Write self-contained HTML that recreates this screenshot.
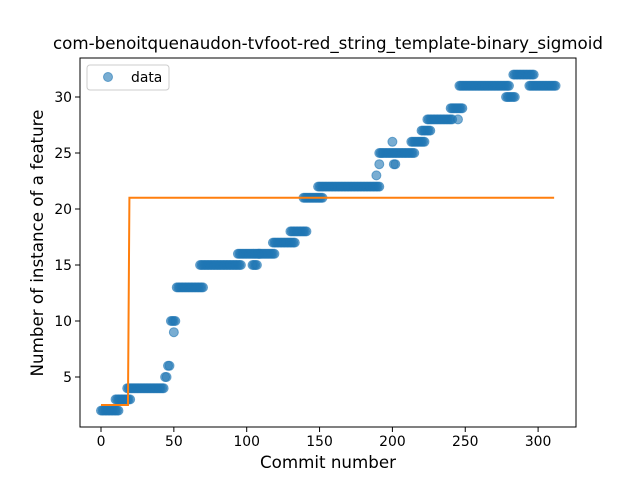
<!DOCTYPE html>
<html><head><meta charset="utf-8"><style>
body{margin:0;background:#fff}
svg text{font-family:"DejaVu Sans","Liberation Sans",sans-serif}
</style></head><body>
<svg id="chart" width="640" height="480" xmlns="http://www.w3.org/2000/svg">
<rect width="640" height="480" fill="#fff"/>
<text x="328" y="49" text-anchor="middle" font-size="16.7">com-benoitquenaudon-tvfoot-red_string_template-binary_sigmoid</text>
<g id="points"></g>
<g id="fit"></g>
<rect x="80" y="58" width="496" height="369" fill="none" stroke="#000" stroke-width="1"/>
<g id="xt"></g>
<g id="yt"></g>
<text x="328" y="468" text-anchor="middle" font-size="16.7">Commit number</text>
<text transform="translate(43,243) rotate(-90)" text-anchor="middle" font-size="16.7">Number of instance of a feature</text>
<g>
<rect x="87" y="65" width="82" height="25" rx="3" fill="#fff" stroke="#ccc"/>
<circle cx="108" cy="77" r="4.5" fill="#1f77b4" fill-opacity="0.6" stroke="#1f77b4" stroke-opacity="0.6"/>
<text x="131" y="82" font-size="13.9">data</text>
</g>
</svg>
<script>
const runStarts=[0,10,18,44,46,48,50,52,68,94,104,108,118,130,139,149,189,191,191,200,201,213,220,224,240,245,246,278,283,294];
const runEnds  =[12,20,43,45,47,51,50,70,96,109,107,119,133,141,152,191,189,191,215,200,202,222,226,241,248,245,280,284,297,312];
const runValues=[2,3,4,5,6,10,9,13,15,16,15,16,17,18,21,22,23,24,25,26,24,26,27,28,29,28,31,30,32,31];
const fitX=[0,18.5,19.5,311];
const fitY=[2.5,2.5,21,21];
const xTicks=[0,50,100,150,200,250,300];
const yTicks=[5,10,15,20,25,30];
const X=v=>101+v*1.457, Y=v=>433-v*11.2;
const NS="http://www.w3.org/2000/svg";
const pts=document.getElementById('points');
for(let r=0;r<runStarts.length;r++){
  for(let x=runStarts[r];x<=runEnds[r];x++){
    const c=document.createElementNS(NS,'circle');
    
    
    c.setAttribute('cx',X(x));c.setAttribute('cy',Y(runValues[r]));c.setAttribute('r',4.5);
    c.setAttribute('fill','#1f77b4');c.setAttribute('fill-opacity','0.6');
    c.setAttribute('stroke','#1f77b4');c.setAttribute('stroke-opacity','0.6');
    pts.appendChild(c);
  }
}
const pl=document.createElementNS(NS,'polyline');


pl.setAttribute('points',fitX.map((x,i)=>X(x)+','+Y(fitY[i])).join(' '));
pl.setAttribute('fill','none');pl.setAttribute('stroke','#ff7f0e');pl.setAttribute('stroke-width','2');
document.getElementById('fit').appendChild(pl);
const xt=document.getElementById('xt');
xTicks.forEach(v=>{
  const l=document.createElementNS(NS,'line');
  
  
  l.setAttribute('x1',X(v));l.setAttribute('x2',X(v));l.setAttribute('y1',427);l.setAttribute('y2',432);l.setAttribute('stroke','#000');
  xt.appendChild(l);
  const t=document.createElementNS(NS,'text');
  
  
  t.setAttribute('x',X(v));t.setAttribute('y',446);t.setAttribute('text-anchor','middle');t.setAttribute('font-size','13.9');
  t.textContent=v;xt.appendChild(t);
});
const yt=document.getElementById('yt');
yTicks.forEach(v=>{
  const l=document.createElementNS(NS,'line');
  
  
  l.setAttribute('x1',75);l.setAttribute('x2',80);l.setAttribute('y1',Y(v));l.setAttribute('y2',Y(v));l.setAttribute('stroke','#000');
  yt.appendChild(l);
  const t=document.createElementNS(NS,'text');
  
  
  t.setAttribute('x',72);t.setAttribute('y',Y(v)+5);t.setAttribute('text-anchor','end');t.setAttribute('font-size','13.9');
  t.textContent=v;yt.appendChild(t);
});
</script>
</body></html>
